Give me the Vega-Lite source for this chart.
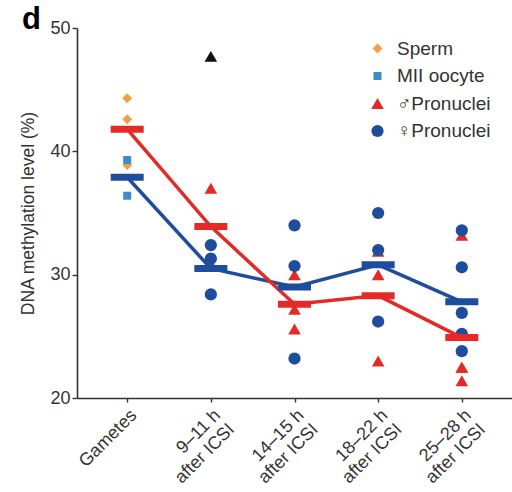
{
  "$schema": "https://vega.github.io/schema/vega-lite/v6.json",
  "width": 435,
  "height": 370,
  "autosize": {"type": "none"},
  "padding": {"left": 77, "top": 28, "right": 0, "bottom": 94},
  "background": "white",
  "title": {"text": "d", "fontSize": 31, "fontWeight": "bold", "font": "Liberation Sans", "anchor": "start", "frame": "group", "dx": -55, "offset": 0, "dy": 41, "baseline": "alphabetic", "color": "#000"},
  "config": {
    "view": {"stroke": null},
    "font": "Liberation Sans",
    "axis": {"domainColor": "#333", "domainWidth": 1.6, "tickColor": "#333", "tickWidth": 1.4, "labelColor": "#333", "titleColor": "#333", "grid": false, "labelFont": "Liberation Sans", "titleFont": "Liberation Sans"}
  },
  "datasets": {
    "points": [
      {"time": "Gametes", "group": "Sperm", "value": 44.3},
      {"time": "Gametes", "group": "Sperm", "value": 42.6},
      {"time": "Gametes", "group": "Sperm", "value": 38.9},
      {"time": "Gametes", "group": "MII oocyte", "value": 39.3},
      {"time": "Gametes", "group": "MII oocyte", "value": 36.4},
      {"time": "9–11 h|after ICSI", "group": "♂Pronuclei", "value": 37.0},
      {"time": "9–11 h|after ICSI", "group": "♂Pronuclei", "value": 30.9},
      {"time": "9–11 h|after ICSI", "group": "♀Pronuclei", "value": 32.4},
      {"time": "9–11 h|after ICSI", "group": "♀Pronuclei", "value": 31.3},
      {"time": "9–11 h|after ICSI", "group": "♀Pronuclei", "value": 28.4},
      {"time": "14–15 h|after ICSI", "group": "♂Pronuclei", "value": 30.0},
      {"time": "14–15 h|after ICSI", "group": "♂Pronuclei", "value": 27.2},
      {"time": "14–15 h|after ICSI", "group": "♂Pronuclei", "value": 25.6},
      {"time": "14–15 h|after ICSI", "group": "♀Pronuclei", "value": 34.0},
      {"time": "14–15 h|after ICSI", "group": "♀Pronuclei", "value": 30.7},
      {"time": "14–15 h|after ICSI", "group": "♀Pronuclei", "value": 23.2},
      {"time": "18–22 h|after ICSI", "group": "♂Pronuclei", "value": 31.9},
      {"time": "18–22 h|after ICSI", "group": "♂Pronuclei", "value": 30.0},
      {"time": "18–22 h|after ICSI", "group": "♂Pronuclei", "value": 23.0},
      {"time": "18–22 h|after ICSI", "group": "♀Pronuclei", "value": 35.0},
      {"time": "18–22 h|after ICSI", "group": "♀Pronuclei", "value": 32.0},
      {"time": "18–22 h|after ICSI", "group": "♀Pronuclei", "value": 26.2},
      {"time": "25–28 h|after ICSI", "group": "♂Pronuclei", "value": 33.2},
      {"time": "25–28 h|after ICSI", "group": "♂Pronuclei", "value": 22.5},
      {"time": "25–28 h|after ICSI", "group": "♂Pronuclei", "value": 22.5},
      {"time": "25–28 h|after ICSI", "group": "♂Pronuclei", "value": 21.4},
      {"time": "25–28 h|after ICSI", "group": "♀Pronuclei", "value": 33.6},
      {"time": "25–28 h|after ICSI", "group": "♀Pronuclei", "value": 30.6},
      {"time": "25–28 h|after ICSI", "group": "♀Pronuclei", "value": 26.9},
      {"time": "25–28 h|after ICSI", "group": "♀Pronuclei", "value": 25.2},
      {"time": "25–28 h|after ICSI", "group": "♀Pronuclei", "value": 23.8}
    ],
    "outlier": [
      {"time": "9–11 h|after ICSI", "value": 47.7}
    ],
    "means": [
      {"time": "Gametes", "parent": "paternal", "value": 41.8},
      {"time": "9–11 h|after ICSI", "parent": "paternal", "value": 33.9},
      {"time": "14–15 h|after ICSI", "parent": "paternal", "value": 27.6},
      {"time": "18–22 h|after ICSI", "parent": "paternal", "value": 28.3},
      {"time": "25–28 h|after ICSI", "parent": "paternal", "value": 24.9},
      {"time": "Gametes", "parent": "maternal", "value": 37.9},
      {"time": "9–11 h|after ICSI", "parent": "maternal", "value": 30.5},
      {"time": "14–15 h|after ICSI", "parent": "maternal", "value": 29.0},
      {"time": "18–22 h|after ICSI", "parent": "maternal", "value": 30.8},
      {"time": "25–28 h|after ICSI", "parent": "maternal", "value": 27.8}
    ]
  },
  "encoding": {
    "x": {
      "field": "time", "type": "nominal",
      "sort": ["Gametes", "9–11 h|after ICSI", "14–15 h|after ICSI", "18–22 h|after ICSI", "25–28 h|after ICSI"],
      "scale": {"type": "point", "padding": 0.6},
      "axis": {"title": null, "labelExpr": "split(datum.label, '|')", "labelAngle": -45, "labelAlign": "right", "labelBaseline": "top", "labelFontSize": 18, "labelLineHeight": 20, "labelPadding": 4, "tickSize": 4}
    },
    "y": {
      "field": "value", "type": "quantitative",
      "scale": {"domain": [20, 50], "nice": false, "zero": false},
      "axis": {"title": "DNA methylation level (%)", "values": [20, 30, 40, 50], "labelFontSize": 18, "labelPadding": 2, "tickSize": 5, "titleFontSize": 17.5, "titleFontWeight": "normal", "titlePadding": 12}
    }
  },
  "layer": [
    {
      "data": {"name": "points"},
      "mark": {"type": "point", "filled": true, "opacity": 1},
      "encoding": {
        "color": {"field": "group", "type": "nominal",
          "scale": {"domain": ["Sperm", "MII oocyte", "♂Pronuclei", "♀Pronuclei"], "range": ["#EFA04A", "#3A8DCC", "#E42A26", "#1E4D9E"]},
          "legend": {"title": null, "orient": "none", "legendX": 291, "legendY": 11, "labelFontSize": 19, "labelColor": "#333", "rowPadding": 7.5, "labelOffset": 10, "symbolStrokeWidth": 0}},
        "shape": {"field": "group", "type": "nominal",
          "scale": {"domain": ["Sperm", "MII oocyte", "♂Pronuclei", "♀Pronuclei"], "range": ["diamond", "square", "triangle-up", "circle"]}},
        "size": {"field": "group", "type": "nominal",
          "scale": {"type": "ordinal", "domain": ["Sperm", "MII oocyte", "♂Pronuclei", "♀Pronuclei"], "range": [100, 64, 160, 150]}, "legend": null}
      }
    },
    {
      "data": {"name": "outlier"},
      "mark": {"type": "point", "filled": true, "opacity": 1, "shape": "triangle-up", "size": 160, "color": "#111"}
    },
    {
      "data": {"name": "means"},
      "transform": [{"filter": "datum.parent === 'maternal'"}],
      "mark": {"type": "line", "color": "#1E4D9E", "strokeWidth": 3.5}
    },
    {
      "data": {"name": "means"},
      "transform": [{"filter": "datum.parent === 'paternal'"}],
      "mark": {"type": "line", "color": "#E42A26", "strokeWidth": 3.5}
    },
    {
      "data": {"name": "means"},
      "transform": [{"filter": "datum.parent === 'maternal'"}],
      "mark": {"type": "tick", "color": "#1E4D9E", "size": 33, "thickness": 7, "opacity": 1}
    },
    {
      "data": {"name": "means"},
      "transform": [{"filter": "datum.parent === 'paternal'"}],
      "mark": {"type": "tick", "color": "#E42A26", "size": 33, "thickness": 7, "opacity": 1}
    }
  ]
}
